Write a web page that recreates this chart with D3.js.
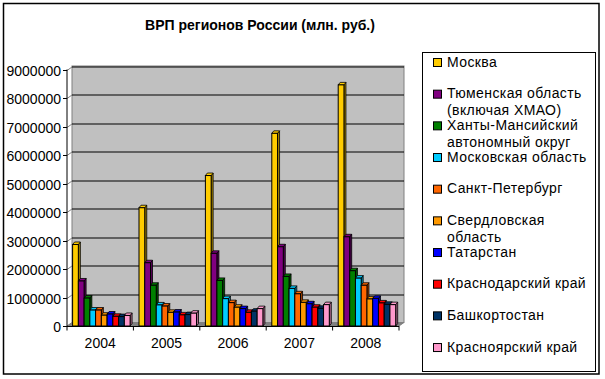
<!DOCTYPE html>
<html><head><meta charset="utf-8">
<script src="https://cdn.jsdelivr.net/npm/d3@7/dist/d3.min.js"></script>
<style>body{margin:0;background:#fff}svg{display:block;font-family:"Liberation Sans",Arial,sans-serif}</style>
</head><body><svg id="c" width="605" height="379"></svg>
<script>
const title = "ВРП регионов России (млн. руб.)";
const years = ["2004", "2005", "2006", "2007", "2008"];
const regions = ["Москва", "Тюменская область (включая ХМАО)", "Ханты-Мансийский автономный округ", "Московская область", "Санкт-Петербург", "Свердловская область", "Татарстан", "Краснодарский край", "Башкортостан", "Красноярский край"];
const legendLines = [["Москва"], ["Тюменская область", "(включая ХМАО)"], ["Ханты-Мансийский", "автономный округ"], ["Московская область"], ["Санкт-Петербург"], ["Свердловская", "область"], ["Татарстан"], ["Краснодарский край"], ["Башкортостан"], ["Красноярский край"]];
const colors = ["#FFCC00", "#800080", "#008000", "#00CCFF", "#FF6600", "#FF9900", "#0000FF", "#FF0000", "#003366", "#FF99CC"];
const moskva = [2860000, 4150000, 5280000, 6760000, 8460000];
const tyumen = [1580000, 2220000, 2550000, 2780000, 3130000];
const khmao = [980000, 1430000, 1600000, 1740000, 1940000];
const mosObl = [560000, 740000, 960000, 1320000, 1680000];
const spb = [560000, 700000, 820000, 1130000, 1430000];
const sverdl = [380000, 480000, 660000, 830000, 950000];
const tatar = [420000, 490000, 610000, 780000, 970000];
const krasnodar = [340000, 390000, 480000, 660000, 810000];
const bashk = [330000, 400000, 520000, 620000, 760000];
const krasnoyarsk = [370000, 450000, 610000, 750000, 750000];
const seriesValues = [moskva, tyumen, khmao, mosObl, spb, sverdl, tatar, krasnodar, bashk, krasnoyarsk];
const yTicks = [0, 1000000, 2000000, 3000000, 4000000, 5000000, 6000000, 7000000, 8000000, 9000000];

const svg = d3.select("#c");
const X0 = 67, X1 = 399, Y0 = 326, YT = 69.5;
const DX = 5, DY = -3.5;      // wall depth
const bdx = 2, bdy = -2.5;    // bar depth

const x = d3.scaleBand().domain(years).range([X0, X1]).padding(0);
const xs = d3.scaleBand().domain(d3.range(regions.length)).range([5.6, 5.6 + 57.5]).padding(0);
const y = d3.scaleLinear().domain([0, 9000000]).range([Y0, YT]);

// outer border
svg.append("rect").attr("x", 3.5).attr("y", 3.5).attr("width", 595.5).attr("height", 370.5)
  .attr("fill", "#fff").attr("stroke", "#000").attr("stroke-width", 1.5);

// title
svg.append("text").attr("x", 260).attr("y", 29.5).attr("text-anchor", "middle")
  .attr("font-size", 14).attr("font-weight", "bold").text(title);

// back wall
svg.append("rect").attr("x", X0 + DX).attr("y", YT + DY).attr("width", X1 - X0).attr("height", Y0 - YT)
  .attr("fill", "#C0C0C0").attr("stroke", "#808080").attr("stroke-width", 1);
// floor
svg.append("path").attr("d", `M${X0},${Y0}L${X1},${Y0}L${X1 + DX},${Y0 + DY}L${X0 + DX},${Y0 + DY}Z`)
  .attr("fill", "#808080").attr("stroke", "#808080");

// gridlines + y ticks
yTicks.forEach(t => {
  const yy = Math.round(y(t)) + 0.5;
  if (t > 0) svg.append("line").attr("x1", X0 + DX).attr("x2", X1 + DX).attr("y1", yy + DY).attr("y2", yy + DY)
    .attr("stroke", "#000").attr("stroke-width", 1);
  svg.append("line").attr("x1", X0).attr("x2", X0 + DX).attr("y1", yy).attr("y2", yy + DY).attr("stroke", "#808080");
  svg.append("line").attr("x1", X0 - 4).attr("x2", X0).attr("y1", yy).attr("y2", yy).attr("stroke", "#000");
  svg.append("text").attr("x", 61).attr("y", yy + 5).attr("text-anchor", "end").attr("font-size", 14).text(t);
});

// bars
years.forEach((yr, j) => {
  const g = svg.append("g");
  seriesValues.forEach((vals, i) => {
    const v = vals[j];
    const bx = x(yr) + xs(i), bw = xs.bandwidth();
    const top = y(v);
    const c = d3.color(colors[i]);
    // side
    g.append("path").attr("d", `M${bx + bw},${Y0}L${bx + bw + bdx},${Y0 + bdy}L${bx + bw + bdx},${top + bdy}L${bx + bw},${top}Z`)
      .attr("fill", c.darker(1.2)).attr("stroke", "#000").attr("stroke-width", 0.8);
    // top
    g.append("path").attr("d", `M${bx},${top}L${bx + bdx},${top + bdy}L${bx + bw + bdx},${top + bdy}L${bx + bw},${top}Z`)
      .attr("fill", c).attr("stroke", "#000").attr("stroke-width", 0.8);
    // front
    g.append("rect").attr("x", bx).attr("y", top).attr("width", bw).attr("height", Y0 - top)
      .attr("fill", c).attr("stroke", "#000").attr("stroke-width", 1);
  });
});

// axes lines
svg.append("line").attr("x1", X0).attr("x2", X0).attr("y1", YT).attr("y2", Y0).attr("stroke", "#000");
svg.append("line").attr("x1", X0).attr("x2", X1).attr("y1", Y0 + 0.5).attr("y2", Y0 + 0.5).attr("stroke", "#000");
years.concat(["end"]).forEach((yr, j) => {
  const xx = j < years.length ? x(yr) : X1;
  svg.append("line").attr("x1", xx).attr("x2", xx).attr("y1", Y0).attr("y2", Y0 + 4.5).attr("stroke", "#000");
});
years.forEach(yr => {
  svg.append("text").attr("x", x(yr) + x.bandwidth() / 2).attr("y", 348).attr("text-anchor", "middle")
    .attr("font-size", 14).text(yr);
});

// legend
svg.append("rect").attr("x", 422.5).attr("y", 52.5).attr("width", 173).attr("height", 319)
  .attr("fill", "#fff").attr("stroke", "#000").attr("stroke-width", 1);
legendLines.forEach((lines, i) => {
  const by = 66.5 + i * 31.67;
  svg.append("rect").attr("x", 433.5).attr("y", by - 8).attr("width", 8).attr("height", 8)
    .attr("fill", colors[i]).attr("stroke", "#000");
  lines.forEach((ln, k) => {
    svg.append("text").attr("x", 447).attr("y", by + k * 16.67).attr("font-size", 14)
      .attr("letter-spacing", 0.4).text(ln);
  });
});
</script></body></html>
